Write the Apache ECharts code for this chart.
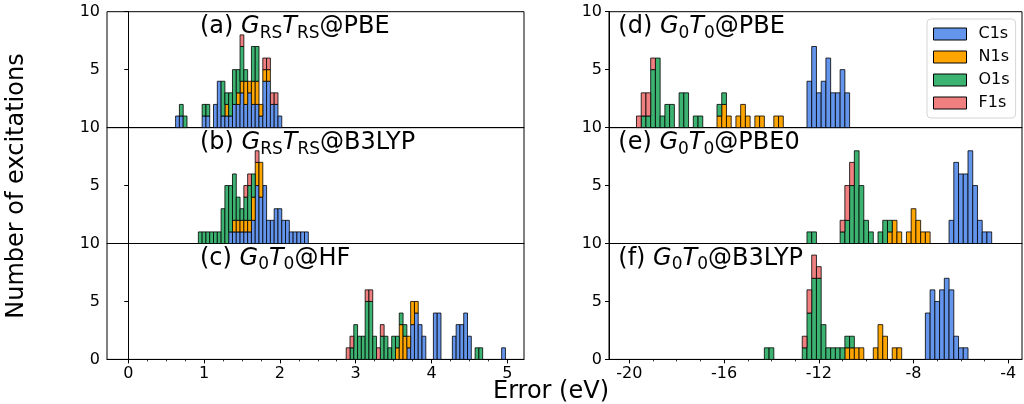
<!DOCTYPE html>
<html>
<head>
<meta charset="utf-8">
<script src="https://cdn.jsdelivr.net/npm/echarts@6/dist/echarts.min.js"></script>
<style>
html, body { margin: 0; padding: 0; background: #fff; }
#chart { width: 1024px; height: 404px; }
</style>
</head>
<body>
<div id="chart"></div>
<script>
var species = ['C1s', 'N1s', 'O1s', 'F1s'];
var speciesColors = ['#6495ED', '#FFA500', '#3CB371', '#F08080'];

// (a) GRS TRS @PBE, bin centres from 0.65 eV, step 0.05 eV
var aStart = 0.65;
var aC = [1, 1, 0, 0, 0, 0, 0, 1, 1, 0, 2, 4, 1, 1, 1, 2, 2, 3, 2, 3, 2, 2, 1, 4, 4, 2, 2, 1, 0];
var aN = [0, 0, 0, 0, 0, 0, 0, 0, 0, 0, 0, 0, 0, 1, 0, 0, 1, 1, 2, 1, 2, 2, 1, 1, 1, 0, 0, 0, 0];
var aO = [0, 1, 1, 0, 0, 0, 0, 1, 1, 0, 0, 0, 3, 1, 2, 3, 2, 3, 1, 0, 3, 3, 0, 0, 0, 0, 0, 0, 0];
var aF = [0, 0, 0, 0, 0, 0, 0, 0, 0, 0, 0, 0, 0, 0, 0, 0, 0, 1, 0, 0, 0, 0, 0, 1, 1, 1, 1, 0, 0];

// (b) GRS TRS @B3LYP, from 0.95 eV
var bStart = 0.95;
var bC = [0, 0, 0, 0, 0, 0, 0, 0, 1, 1, 1, 1, 1, 1, 2, 5, 4, 5, 2, 2, 3, 3, 2, 2, 1, 1, 1, 1, 1];
var bN = [0, 0, 0, 0, 0, 0, 0, 0, 0, 1, 1, 1, 1, 1, 2, 2, 3, 0, 0, 0, 0, 0, 0, 0, 0, 0, 0, 0, 0];
var bO = [1, 1, 1, 1, 1, 1, 3, 5, 4, 4, 2, 1, 2, 3, 2, 0, 0, 0, 0, 0, 0, 0, 0, 0, 0, 0, 0, 0, 0];
var bF = [0, 0, 0, 0, 0, 0, 0, 0, 0, 0, 0, 0, 1, 1, 0, 1, 0, 0, 0, 0, 0, 0, 0, 0, 0, 0, 0, 0, 0];

// (c) G0T0@HF, from 2.90 eV
var cStart = 2.90;
var cC = [0, 0, 0, 0, 0, 0, 0, 0, 0, 0, 0, 0, 0, 0, 0, 0, 1, 3, 4, 3, 2, 0, 0, 4, 4, 0, 0, 0, 2, 3, 3, 4, 2, 0, 0, 0, 0, 0, 0, 0, 0, 1];
var cN = [0, 0, 0, 0, 0, 0, 0, 0, 0, 0, 0, 0, 0, 1, 3, 2, 1, 2, 1, 0, 0, 0, 0, 0, 0, 0, 0, 0, 0, 0, 0, 0, 0, 0, 0, 0, 0, 0, 0, 0, 0, 0];
var cO = [0, 1, 3, 2, 2, 5, 5, 2, 0, 2, 2, 1, 2, 1, 1, 1, 0, 0, 0, 0, 0, 0, 0, 0, 0, 0, 0, 0, 0, 0, 0, 0, 0, 0, 1, 1, 0, 0, 0, 0, 0, 0];
var cF = [1, 1, 0, 0, 0, 1, 1, 0, 1, 1, 0, 0, 0, 0, 0, 0, 0, 0, 0, 0, 0, 0, 0, 0, 0, 0, 0, 0, 0, 0, 0, 0, 0, 0, 0, 0, 0, 0, 0, 0, 0, 0];

// (d) G0T0@PBE, from -19.6 eV, step 0.2 eV
var dStart = -19.6;
var dC = [0, 0, 0, 0, 0, 0, 0, 0, 0, 0, 0, 0, 0, 0, 0, 0, 0, 0, 0, 0, 0, 0, 0, 0, 0, 0, 0, 0, 0, 0, 0, 0, 0, 0, 0, 0, 4, 7, 3, 4, 6, 3, 3, 5, 3];
var dN = [0, 0, 0, 0, 0, 0, 0, 0, 0, 0, 0, 0, 0, 0, 0, 0, 0, 1, 2, 1, 0, 1, 2, 1, 0, 1, 1, 0, 0, 1, 1, 0, 0, 0, 0, 0, 0, 0, 0, 0, 0, 0, 0, 0, 0];
var dO = [0, 1, 1, 5, 6, 1, 2, 2, 0, 3, 3, 0, 1, 1, 0, 0, 0, 1, 1, 0, 0, 0, 0, 0, 0, 0, 0, 0, 0, 0, 0, 0, 0, 0, 0, 0, 0, 0, 0, 0, 0, 0, 0, 0, 0];
var dF = [1, 2, 2, 1, 0, 0, 0, 0, 0, 0, 0, 0, 0, 0, 0, 0, 0, 0, 0, 0, 0, 0, 0, 0, 0, 0, 0, 0, 0, 0, 0, 0, 0, 0, 0, 0, 0, 0, 0, 0, 0, 0, 0, 0, 0];

// (e) G0T0@PBE0, from -12.4 eV
var eStart = -12.4;
var eC = [0, 0, 0, 0, 0, 0, 0, 0, 0, 0, 0, 0, 0, 0, 0, 0, 0, 0, 0, 0, 0, 0, 0, 0, 0, 0, 0, 0, 0, 0, 2, 7, 6, 6, 8, 5, 2, 1, 1];
var eN = [0, 0, 0, 0, 0, 0, 0, 0, 0, 0, 0, 0, 0, 0, 0, 0, 0, 1, 2, 1, 0, 1, 3, 2, 1, 1, 0, 0, 0, 0, 0, 0, 0, 0, 0, 0, 0, 0, 0];
var eO = [1, 1, 0, 0, 0, 0, 0, 1, 2, 5, 8, 5, 2, 1, 0, 1, 2, 1, 0, 0, 0, 0, 0, 0, 0, 0, 0, 0, 0, 0, 0, 0, 0, 0, 0, 0, 0, 0, 0];
var eF = [0, 0, 0, 0, 0, 0, 0, 1, 3, 2, 0, 0, 0, 0, 0, 0, 0, 0, 0, 0, 0, 0, 0, 0, 0, 0, 0, 0, 0, 0, 0, 0, 0, 0, 0, 0, 0, 0, 0];

// (f) G0T0@B3LYP, from -14.2 eV
var fStart = -14.2;
var fC = [0, 0, 0, 0, 0, 0, 0, 0, 0, 0, 0, 0, 0, 0, 0, 0, 0, 0, 0, 0, 0, 0, 0, 0, 0, 0, 0, 0, 0, 0, 0, 0, 0, 0, 4, 6, 5, 6, 7, 6, 2, 1, 1];
var fN = [0, 0, 0, 0, 0, 0, 0, 0, 0, 0, 0, 0, 0, 0, 0, 0, 0, 1, 1, 1, 1, 0, 0, 1, 3, 2, 0, 1, 1, 0, 0, 0, 0, 0, 0, 0, 0, 0, 0, 0, 0, 0, 0];
var fO = [1, 1, 0, 0, 0, 0, 0, 0, 1, 4, 7, 7, 3, 1, 1, 1, 1, 1, 1, 0, 0, 0, 0, 0, 0, 0, 0, 0, 0, 0, 0, 0, 0, 0, 0, 0, 0, 0, 0, 0, 0, 0, 0];
var fF = [0, 0, 0, 0, 0, 0, 0, 0, 1, 2, 2, 1, 0, 0, 0, 0, 0, 0, 0, 0, 0, 0, 0, 0, 0, 0, 0, 0, 0, 0, 0, 0, 0, 0, 0, 0, 0, 0, 0, 0, 0, 0, 0];

var leftTicks = [0, 1, 2, 3, 4, 5];
var leftMinor = [0.25, 0.5, 0.75, 1.25, 1.5, 1.75, 2.25, 2.5, 2.75, 3.25, 3.5, 3.75, 4.25, 4.5, 4.75];
var rightTicks = [-20, -16, -12, -8, -4];
var rightMinor = [-19, -18, -17, -15, -14, -13, -11, -10, -9, -7, -6, -5];

var panels = [
    { start: aStart, width: 0.05, counts: [aC, aN, aO, aF], tag: '(a) ', sub: 'RS', method: '@PBE' },
    { start: bStart, width: 0.05, counts: [bC, bN, bO, bF], tag: '(b) ', sub: 'RS', method: '@B3LYP' },
    { start: cStart, width: 0.05, counts: [cC, cN, cO, cF], tag: '(c) ', sub: '0', method: '@HF' },
    { start: dStart, width: 0.2, counts: [dC, dN, dO, dF], tag: '(d) ', sub: '0', method: '@PBE' },
    { start: eStart, width: 0.2, counts: [eC, eN, eO, eF], tag: '(e) ', sub: '0', method: '@PBE0' },
    { start: fStart, width: 0.2, counts: [fC, fN, fO, fF], tag: '(f) ', sub: '0', method: '@B3LYP' }
];

var FONT = '"DejaVu Sans"';
var tops = [11.7, 127.6, 243.5];
var panelH = 115.9;

var chart = echarts.init(document.getElementById('chart'));

var grids = [], xAxes = [], yAxes = [], series = [], graphics = [];

panels.forEach(function (p, i) {
    var col = i < 3 ? 0 : 1;
    var row = i % 3;
    var bottom = row === 2;
    grids.push({
        left: col === 0 ? 107 : 609,
        width: col === 0 ? 417 : 413,
        top: tops[row],
        height: panelH,
        show: true,
        borderColor: '#000',
        borderWidth: 1,
        backgroundColor: 'transparent'
    });
    var xmin = col === 0 ? -0.28 : -20.86;
    var xmax = col === 0 ? 5.22 : -3.42;
    var mainIndex = xAxes.length;
    xAxes.push({
        type: 'value', gridIndex: i, min: xmin, max: xmax, position: 'bottom',
        axisLine: { show: true, lineStyle: { color: '#000', width: 1 } },
        splitLine: { show: false },
        axisTick: { show: bottom, length: 4, lineStyle: { color: '#000' },
            customValues: col === 0 ? leftTicks : rightTicks },
        axisLabel: { show: bottom, color: '#000', fontSize: 16, fontFamily: FONT, margin: 6,
            customValues: col === 0 ? leftTicks : rightTicks }
    });
    if (bottom) {
        // second axis only carries the minor ticks
        xAxes.push({
            type: 'value', gridIndex: i, min: xmin, max: xmax, position: 'bottom', offset: 0,
            axisLine: { show: false }, splitLine: { show: false },
            axisLabel: { show: false },
            axisTick: { show: true, length: 2, lineStyle: { color: '#000', width: 0.8 },
                customValues: col === 0 ? leftMinor : rightMinor }
        });
    }
    yAxes.push({
        type: 'value', gridIndex: i, min: 0, max: 10, interval: 5,
        axisLine: { show: true, lineStyle: { color: '#000', width: 1 } },
        splitLine: { show: false },
        axisTick: { show: true, length: 4, lineStyle: { color: '#000' } },
        axisLabel: { color: '#000', fontSize: 16, fontFamily: FONT, margin: 7,
            customValues: bottom ? [0, 5, 10] : [5, 10] }
    });

    // stacked histogram, one custom series per species
    var base = p.counts[0].map(function () { return 0; });
    p.counts.forEach(function (arr, s) {
        var data = [];
        arr.forEach(function (n, k) {
            if (n > 0) {
                var c = +(p.start + k * p.width).toFixed(3);
                data.push([c, base[k], base[k] + n, p.width]);
            }
            base[k] += n;
        });
        series.push({
            type: 'custom', name: species[s], xAxisIndex: mainIndex, yAxisIndex: i,
            itemStyle: { color: speciesColors[s] },
            encode: { x: 0, y: [1, 2] },
            renderItem: function (params, api) {
                var c = api.value(0), w = api.value(3);
                var p0 = api.coord([c - w / 2, api.value(1)]);
                var p1 = api.coord([c + w / 2, api.value(2)]);
                return {
                    type: 'rect',
                    shape: { x: p0[0], y: p1[1], width: p1[0] - p0[0], height: p0[1] - p1[1] },
                    style: { fill: speciesColors[s], stroke: '#000', lineWidth: 0.8 }
                };
            },
            data: data
        });
    });
});

// panel titles with italic symbols and subscripts
var ctx = document.createElement('canvas').getContext('2d');
panels.forEach(function (p, i) {
    var col = i < 3 ? 0 : 1;
    var row = i % 3;
    var x = col === 0 ? 200 : 618.3;
    var baseline = tops[row] + 23.5;
    var parts = [
        { t: p.tag }, { t: 'G', it: true }, { t: p.sub, sub: true },
        { t: 'T', it: true }, { t: p.sub, sub: true }, { t: p.method }
    ];
    parts.forEach(function (q) {
        var size = q.sub ? 17 : 24;
        var font = (q.it ? 'italic ' : '') + size + 'px ' + FONT;
        ctx.font = font;
        var bl = baseline + (q.sub ? 4 : 0);
        graphics.push({
            type: 'text', x: x, y: bl - 0.35 * size, z: 10,
            style: { text: q.t, font: font, fill: '#000', textAlign: 'left', textVerticalAlign: 'middle' }
        });
        x += ctx.measureText(q.t).width;
    });
});

graphics.push({
    type: 'text', x: 551, y: 392,
    style: { text: 'Error (eV)', font: '24px ' + FONT, fill: '#000', textAlign: 'center', textVerticalAlign: 'middle' }
});
graphics.push({
    type: 'text', x: 17, y: 186, rotation: Math.PI / 2,
    style: { text: 'Number of excitations', font: '24px ' + FONT, fill: '#000', textAlign: 'center', textVerticalAlign: 'middle' }
});

chart.setOption({
    animation: false,
    textStyle: { fontFamily: FONT },
    grid: grids,
    xAxis: xAxes,
    yAxis: yAxes,
    legend: {
        data: species,
        orient: 'vertical',
        left: 927, top: 19,
        padding: [7, 6, 7, 6],
        itemWidth: 33, itemHeight: 12, itemGap: 7,
        icon: 'rect',
        itemStyle: { borderColor: '#000', borderWidth: 1 },
        textStyle: { color: '#000', fontSize: 16, fontFamily: FONT, padding: [0, 0, 0, 7] },
        borderColor: '#d5d5d5', borderWidth: 1, borderRadius: 4,
        backgroundColor: 'rgba(255,255,255,0.85)',
        selectedMode: false
    },
    graphic: graphics,
    series: series
});
</script>
</body>
</html>
